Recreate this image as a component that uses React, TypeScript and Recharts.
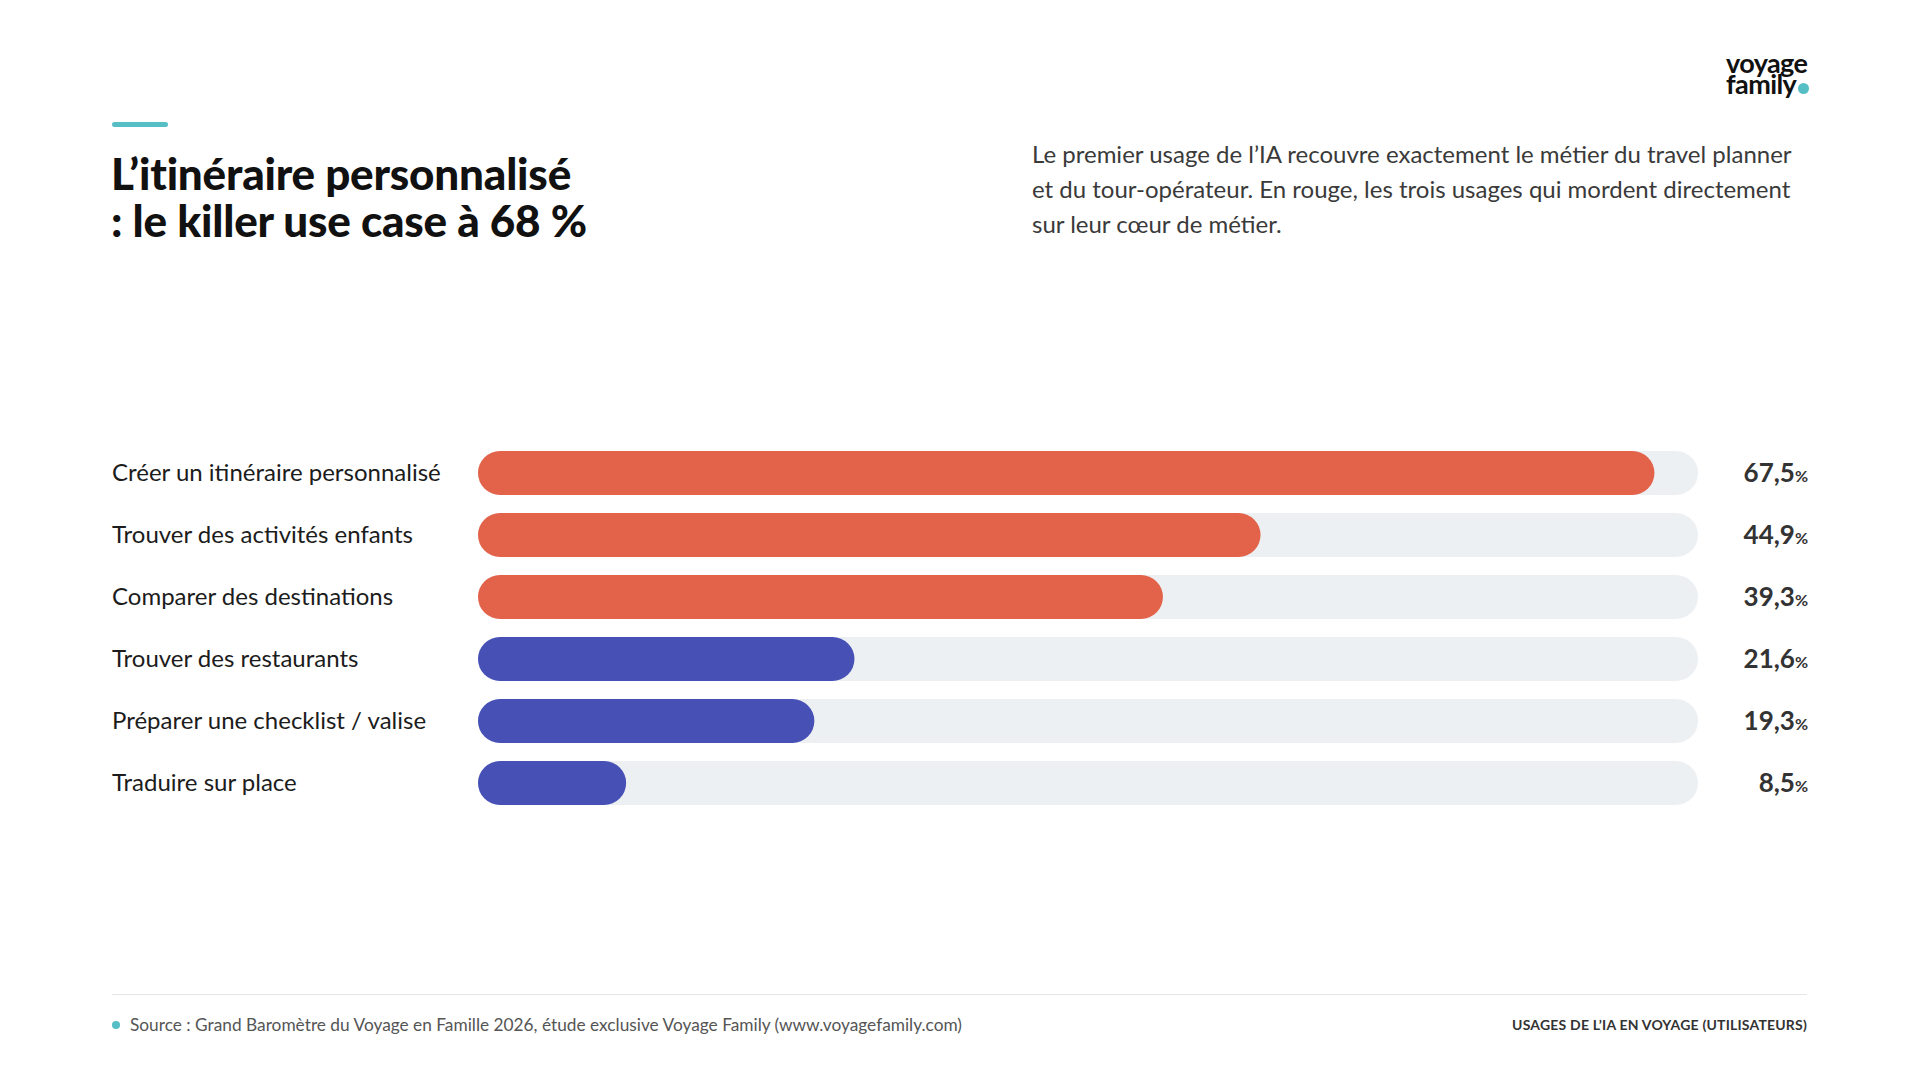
import { BarChart, Bar, XAxis, YAxis, Cell } from "recharts";

// Usages de l'IA en voyage (% des utilisateurs)
const categories = [
  "Créer un itinéraire personnalisé",
  "Trouver des activités enfants",
  "Comparer des destinations",
  "Trouver des restaurants",
  "Préparer une checklist / valise",
  "Traduire sur place",
];
const values = [67.5, 44.9, 39.3, 21.6, 19.3, 8.5];
// usages qui touchent le coeur de métier (en rouge)
const coreBusiness = [true, true, true, false, false, false];
const valueLabels = ["67,5", "44,9", "39,3", "21,6", "19,3", "8,5"];

const RED = "#E2624A";
const BLUE = "#4650B5";
const TRACK = "#EDF0F3";
const TEAL = "#56BFC6";
const FONT = "Lato, 'Noto Sans', sans-serif";

const data = categories.map((label, i) => ({
  label,
  value: values[i],
  core: coreBusiness[i],
  text: valueLabels[i],
}));

const LEFT_AXIS_W = 366;
const RIGHT_AXIS_W = 110;

function LeftTick(props: any) {
  const { x, y, payload } = props;
  return (
    <text
      x={x - LEFT_AXIS_W}
      y={y}
      dy={8}
      textAnchor="start"
      fontFamily={FONT}
      fontSize={24}
      fill="#1c1c1c"
    >
      {payload.value}
    </text>
  );
}

function RightTick(props: any) {
  const { x, y, index } = props;
  return (
    <text
      x={x + RIGHT_AXIS_W}
      y={y}
      dy={9}
      textAnchor="end"
      fontFamily={FONT}
      fontWeight={700}
      fill="#333333"
    >
      <tspan fontSize={26}>{data[index].text}</tspan>
      <tspan fontSize={16}>%</tspan>
    </text>
  );
}

export default function App() {
  return (
    <div
      style={{
        position: "absolute",
        left: 0,
        top: 0,
        width: 1920,
        height: 1080,
        background: "#ffffff",
        fontFamily: FONT,
        overflow: "hidden",
      }}
    >
      {/* petit trait d'accent */}
      <div
        style={{
          position: "absolute",
          left: 112,
          top: 122,
          width: 56,
          height: 5,
          borderRadius: 3,
          background: TEAL,
        }}
      />
      <div
        style={{
          position: "absolute",
          left: 111,
          top: 150,
          fontSize: 44,
          fontWeight: 900,
          lineHeight: "47px",
          color: "#111111",
          letterSpacing: -0.2,
        }}
      >
        L’itinéraire personnalisé
        <br />: le killer use case à 68 %
      </div>

      <div
        style={{
          position: "absolute",
          left: 1032,
          top: 136,
          width: 800,
          fontSize: 24,
          lineHeight: "35px",
          color: "#3a3a3a",
        }}
      >
        Le premier usage de l’IA recouvre exactement le métier du travel planner
        <br />
        et du tour-opérateur. En rouge, les trois usages qui mordent directement
        <br />
        sur leur cœur de métier.
      </div>

      {/* logo */}
      <div
        style={{
          position: "absolute",
          left: 1726,
          top: 52,
          fontSize: 27,
          fontWeight: 700,
          color: "#111111",
          letterSpacing: -0.6,
        }}
      >
        <div style={{ lineHeight: "21px", height: 21 }}>voyage</div>
        <div style={{ lineHeight: "21px", height: 21 }}>
          family
          <span
            style={{
              display: "inline-block",
              width: 11,
              height: 11,
              borderRadius: "50%",
              background: TEAL,
              marginLeft: 2,
            }}
          />
        </div>
      </div>

      <div style={{ position: "absolute", left: 0, top: 0 }}>
        <BarChart
          width={1920}
          height={1080}
          data={data}
          layout="vertical"
          margin={{ top: 442, right: 112, bottom: 266, left: 112 }}
        >
          <XAxis type="number" domain={[0, 70]} hide />
          <YAxis
            yAxisId="left"
            type="category"
            dataKey="label"
            width={LEFT_AXIS_W}
            axisLine={false}
            tickLine={false}
            tickSize={0}
            tickMargin={0}
            tick={<LeftTick />}
            interval={0}
          />
          <YAxis
            yAxisId="right"
            orientation="right"
            type="category"
            dataKey="label"
            width={RIGHT_AXIS_W}
            axisLine={false}
            tickLine={false}
            tickSize={0}
            tickMargin={0}
            tick={<RightTick />}
            interval={0}
          />
          <Bar
            yAxisId="left"
            dataKey="value"
            barSize={44}
            radius={22}
            background={{ fill: TRACK, radius: 22 }}
            isAnimationActive={false}
          >
            {data.map((d, i) => (
              <Cell key={i} fill={d.core ? RED : BLUE} />
            ))}
          </Bar>
        </BarChart>
      </div>

      {/* pied de page */}
      <div
        style={{
          position: "absolute",
          left: 112,
          top: 994,
          width: 1695,
          height: 1,
          background: "#e6e6e6",
        }}
      />
      <div
        style={{
          position: "absolute",
          left: 112,
          top: 1014,
          fontSize: 17.3,
          color: "#555555",
          display: "flex",
          alignItems: "center",
        }}
      >
        <span
          style={{
            display: "inline-block",
            width: 8,
            height: 8,
            borderRadius: "50%",
            background: TEAL,
            marginRight: 10,
          }}
        />
        Source : Grand Baromètre du Voyage en Famille 2026, étude exclusive Voyage Family (www.voyagefamily.com)
      </div>
      <div
        style={{
          position: "absolute",
          right: 113,
          top: 1016,
          fontSize: 14,
          fontWeight: 700,
          color: "#333333",
          letterSpacing: 0.2,
        }}
      >
        USAGES DE L’IA EN VOYAGE (UTILISATEURS)
      </div>
    </div>
  );
}
